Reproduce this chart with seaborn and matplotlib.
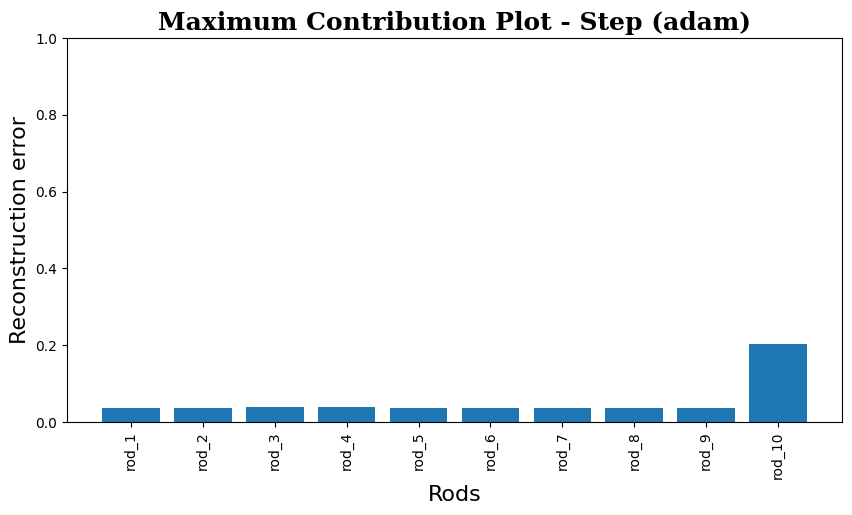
import numpy as np
import pandas as pd
import matplotlib
matplotlib.use("Agg")
import matplotlib.pyplot as plt
import seaborn as sns

rods = [f"rod_{i}" for i in range(1, 11)]
errors = [0.036, 0.036, 0.039, 0.039, 0.036, 0.036, 0.036, 0.036, 0.036, 0.203]

df = pd.DataFrame({"rod": rods, "error": errors})

fig = plt.figure(figsize=(8.52, 5.15), dpi=100)
ax = fig.add_axes([67 / 852, 1 - 422 / 515, (842 - 67) / 852, (422 - 38) / 515])

sns.barplot(data=df, x="rod", y="error", color="#1f77b4", saturation=1,
            width=0.8, ax=ax)

ax.set_xlim(-0.89, 9.89)
ax.set_ylim(0, 1)
ax.set_title("Maximum Contribution Plot - Step (adam)", fontsize=18,
             fontweight="bold", family="DejaVu Serif")
ax.set_xlabel("Rods", fontsize=16)
ax.set_ylabel("Reconstruction error", fontsize=16)
plt.setp(ax.get_xticklabels(), rotation=90)

fig.savefig("out.png", dpi=100)
